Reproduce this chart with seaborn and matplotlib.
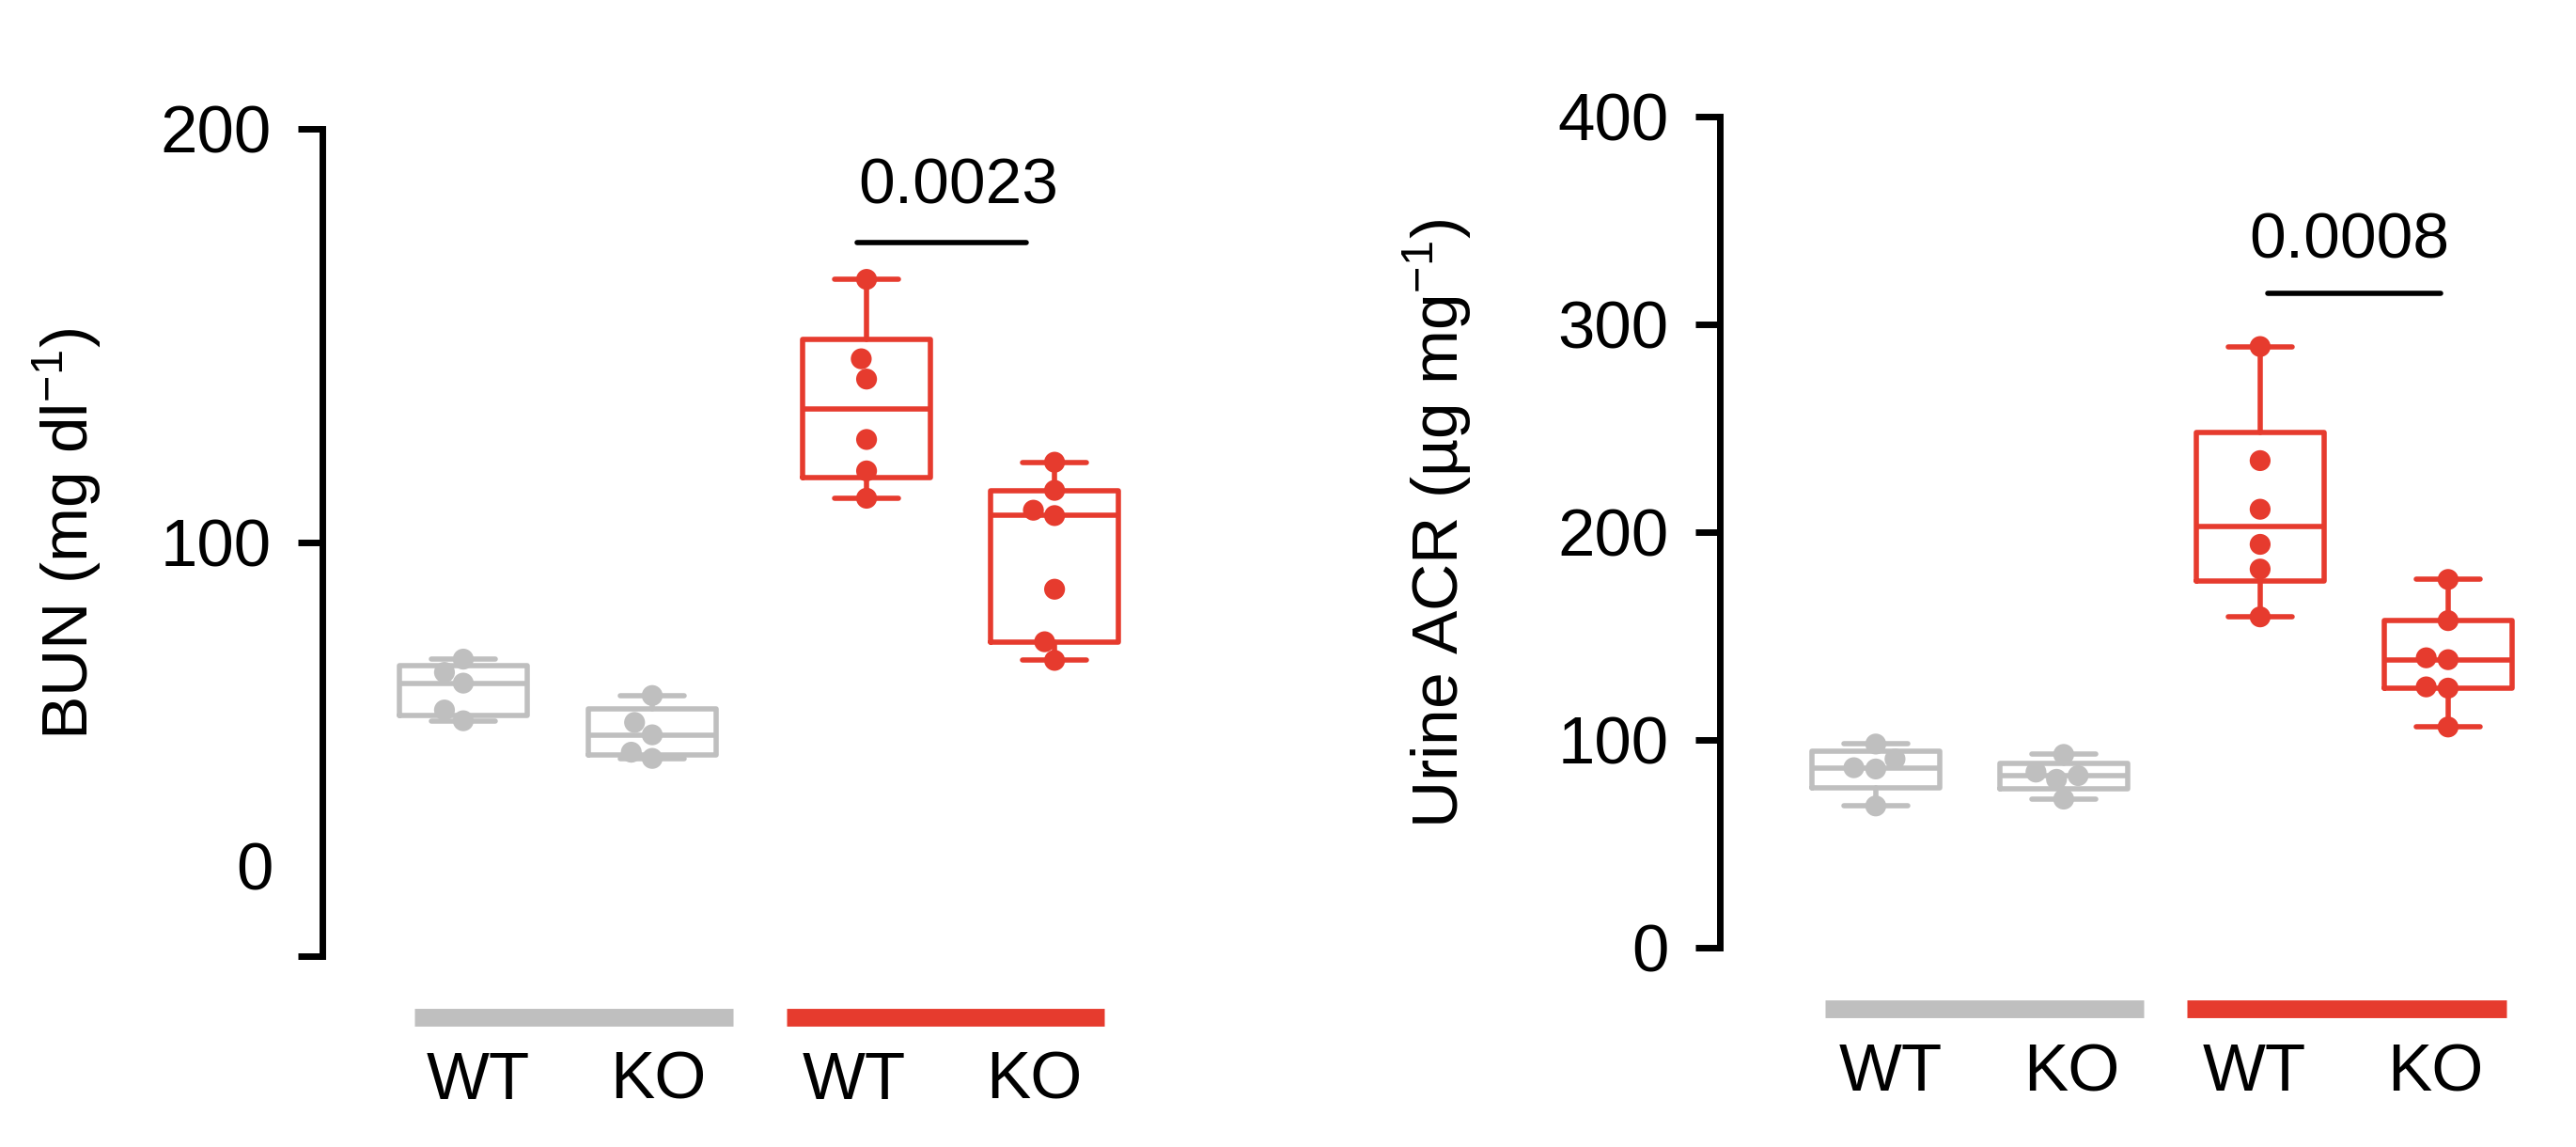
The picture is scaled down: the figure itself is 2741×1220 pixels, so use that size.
import numpy as np
import pandas as pd
import matplotlib
matplotlib.use("Agg")
import matplotlib.pyplot as plt
import seaborn as sns

# values
genotypes = ["WT", "KO", "WT", "KO"]
conditions = ["ctrl", "ctrl", "dis", "dis"]

bun_wt_ctrl = [71.8, 68.6, 66.0, 59.5, 56.9]
bun_ko_ctrl = [63.0, 56.5, 53.5, 49.3, 47.8]
bun_wt_dis = [163.6, 144.4, 139.5, 124.9, 117.3, 110.7]
bun_ko_dis = [119.4, 112.6, 107.8, 106.5, 88.7, 76.0, 71.5]

acr_wt_ctrl = [98.0, 90.8, 86.6, 86.0, 68.2]
acr_ko_ctrl = [93.0, 84.5, 82.8, 81.0, 71.5]
acr_wt_dis = [289.3, 234.4, 211.0, 194.1, 182.2, 159.2]
acr_ko_dis = [177.2, 157.4, 139.5, 138.6, 125.5, 124.9, 106.2]

bun_p = "0.0023"
acr_p = "0.0008"

colors = {"ctrl": "#BFBFBF", "dis": "#E63B2E"}

sns.set_style("ticks")
plt.rcParams["font.family"] = ["Liberation Sans", "DejaVu Sans"]
plt.rcParams["mathtext.fontset"] = "custom"
plt.rcParams["mathtext.rm"] = "Liberation Sans"
plt.rcParams["text.color"] = "black"
plt.rcParams["axes.labelcolor"] = "black"

fig = plt.figure(figsize=(13.705, 6.1), dpi=200)
ax1 = fig.add_axes([0.1251, 0.1664, 0.331, 0.7213])
ax2 = fig.add_axes([0.6676, 0.1738, 0.3247, 0.7246])


def draw_panel(ax, groups, pos, xlim, ymax, yticks, ylabel, lab_x,
               label_pos, spans, pval, pbar, ptext):
    # boxes: quartiles like Prism (n+1 method), whiskers min to max
    stats = []
    for vals in groups:
        v = np.asarray(vals)
        q1, med, q3 = np.percentile(v, [25, 50, 75], method="weibull")
        stats.append(dict(med=med, q1=q1, q3=q3, whislo=v.min(),
                          whishi=v.max(), fliers=[]))
    art = ax.bxp(stats, positions=pos, widths=0.68, capwidths=0.34,
                 showfliers=False, manage_ticks=False)
    for i, c in enumerate(conditions):
        col = colors[c]
        art["boxes"][i].set(color=col, linewidth=2.0)
        art["medians"][i].set(color=col, linewidth=2.0)
        for ln in art["whiskers"][2 * i:2 * i + 2] + art["caps"][2 * i:2 * i + 2]:
            ln.set(color=col, linewidth=2.0)

    df = pd.DataFrame({
        "pos": np.repeat(pos, [len(g) for g in groups]),
        "value": np.concatenate(groups),
        "cond": np.repeat(conditions, [len(g) for g in groups]),
    })
    sns.swarmplot(data=df, x="pos", y="value", hue="cond", palette=colors,
                  native_scale=True, size=8, legend=False, ax=ax, zorder=3)

    ax.set_xlim(*xlim)
    ax.set_ylim(0, ymax)
    ax.set_xticks([])
    ax.set_xlabel("")
    ax.set_yticks(yticks)
    ax.set_ylabel(ylabel, fontsize=25)
    ax.yaxis.set_label_coords(lab_x, 0.51)
    ax.tick_params(axis="y", length=9.5, width=2.5, pad=10, labelsize=25.5,
                   color="black", labelcolor="black")
    sns.despine(ax=ax, bottom=True)
    ax.spines["left"].set_linewidth(2.5)
    ax.spines["left"].set_color("black")

    # group bars and genotype labels under the axis
    tr = ax.get_xaxis_transform()
    for (x0, x1), c in zip(spans, ["ctrl", "dis"]):
        ax.plot([x0, x1], [-0.074, -0.074], transform=tr, color=colors[c],
                lw=6.8, solid_capstyle="butt", clip_on=False)
    for x, g in zip(label_pos, genotypes):
        ax.text(x, -0.152, g, transform=tr, ha="center", va="center",
                fontsize=25.5)

    # p-value annotation
    ax.plot(pbar[:2], [pbar[2], pbar[2]], color="black", lw=2.0)
    ax.text(ptext[0], ptext[1], pval, ha="center", va="center", fontsize=25)


draw_panel(ax1, [bun_wt_ctrl, bun_ko_ctrl, bun_wt_dis, bun_ko_dis],
           pos=[0, 1.005, 2.145, 3.145], xlim=(-0.75, 3.785), ymax=200,
           yticks=[0, 100, 200], ylabel=r"BUN (mg dl$^{-1}$)", lab_x=-0.257,
           label_pos=[0.08, 1.035, 2.08, 3.035],
           spans=[(-0.26, 1.435), (1.72, 3.41)],
           pval=bun_p, pbar=(2.095, 2.995, 172.5), ptext=(2.635, 186))

draw_panel(ax2, [acr_wt_ctrl, acr_ko_ctrl, acr_wt_dis, acr_ko_dis],
           pos=[0, 1.0, 2.045, 3.045], xlim=(-0.83, 3.62), ymax=400,
           yticks=[0, 100, 200, 300, 400],
           ylabel=r"Urine ACR (µg mg$^{-1}$)", lab_x=-0.294,
           label_pos=[0.08, 1.04, 2.015, 2.975],
           spans=[(-0.27, 1.425), (1.655, 3.355)],
           pval=acr_p, pbar=(2.085, 3.005, 315), ptext=(2.52, 340))

# the "0" label of the BUN axis sits above its tick in the original
ax1.set_yticklabels(["", "100", "200"])
ax1.text(-0.058, 20, "0", transform=ax1.get_yaxis_transform(), ha="right",
         va="center", fontsize=25.5)

fig.savefig("out.png", dpi=200, facecolor="white")
